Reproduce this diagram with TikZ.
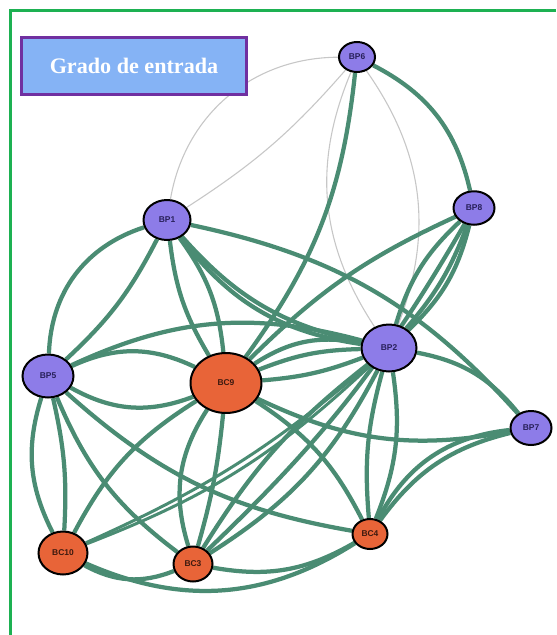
\documentclass[tikz,border=0pt]{standalone}
\usepackage{fontspec}
\newfontfamily\legendfont{Liberation Serif}
\newfontfamily\labelfont{Liberation Sans}
\usetikzlibrary{shapes.geometric}
\pgfdeclarelayer{background}
\pgfsetlayers{background,main}
\definecolor{linkgreen}{RGB}{74,140,115}
\definecolor{bppurple}{RGB}{141,124,232}
\definecolor{bcorange}{RGB}{232,100,56}
\definecolor{framegreen}{RGB}{29,177,82}
\definecolor{boxblue}{RGB}{133,179,245}
\definecolor{boxpurple}{RGB}{112,48,160}
\definecolor{bptext}{RGB}{40,32,90}
\definecolor{bctext}{RGB}{60,25,15}
\tikzset{
  netnode/.style={ellipse,draw=black,line width=0.04cm,inner sep=0pt,font=\labelfont\bfseries\fontsize{4.8}{5}\selectfont},
  bp/.style={netnode,fill=bppurple,text=bptext},
  bc/.style={netnode,fill=bcorange,text=bctext},
  link/.style={draw=linkgreen,line width=0.085cm},
  thinlink/.style={draw=linkgreen,line width=0.06cm},
  faint/.style={draw=black!22,line width=0.022cm},
  legendbox/.style={draw=boxpurple,line width=0.06cm,fill=boxblue,text=white,minimum width=4.52cm,minimum height=1.14cm,font=\legendfont\bfseries\fontsize{12.6}{14}\selectfont}
}
\begin{document}
\begin{tikzpicture}[x=0.02cm,y=-0.02cm]
\useasboundingbox (0,0) rectangle (556,635);
\draw[framegreen,line width=0.06cm] (10.5,635) -- (10.5,10.5) -- (556,10.5);
\node[legendbox] (legend) at (134,66) {Grado de entrada};
\node[bp,minimum width=0.72cm,minimum height=0.6cm] (bp6) at (357,57) {BP6};
\node[bp,minimum width=0.82cm,minimum height=0.67cm] (bp8) at (474,208) {BP8};
\node[bp,minimum width=0.94cm,minimum height=0.8cm] (bp1) at (167,220) {BP1};
\node[bp,minimum width=1.1cm,minimum height=0.94cm] (bp2) at (389,348) {BP2};
\node[bp,minimum width=1.02cm,minimum height=0.86cm] (bp5) at (48,376) {BP5};
\node[bc,minimum width=1.42cm,minimum height=1.2cm] (bc9) at (226,383) {BC9};
\node[bp,minimum width=0.82cm,minimum height=0.68cm] (bp7) at (531,428) {BP7};
\node[bc,minimum width=0.98cm,minimum height=0.86cm] (bc10) at (63,553) {BC10};
\node[bc,minimum width=0.78cm,minimum height=0.7cm] (bc3) at (193,564) {BC3};
\node[bc,minimum width=0.7cm,minimum height=0.6cm] (bc4) at (370,534) {BC4};
\begin{pgfonlayer}{background}
\draw[faint] (bp6) to[bend right=40] (bp1);
\draw[faint] (bp6) to[bend left=8] (bp1);
\draw[faint] (bp6) to[bend right=28] (bp2);
\draw[faint] (bp6) to[bend left=28] (bp2);
\draw[link] (bp6) to[bend left=25] (bp8);
\draw[link] (bp6) to[bend left=15] (bc9);
\draw[link] (bp1) to[bend right=35] (bp5);
\draw[link] (bp1) to[bend left=10] (bp5);
\draw[link] (bp1) to[bend left=18] (bp7);
\draw[link] (bp1) to[bend right=18] (bp2);
\draw[link] (bp1) to[bend right=22] (bp2);
\draw[link] (bp1) to[bend left=15] (bc9);
\draw[link] (bp1) to[bend right=12] (bc9);
\draw[link] (bp5) to[bend left=20] (bp2);
\draw[link] (bp5) to[bend left=25] (bc9);
\draw[link] (bp5) to[bend right=25] (bc9);
\draw[link] (bp5) to[bend right=16] (bc4);
\draw[link] (bp5) to[bend right=15] (bc3);
\draw[link] (bp5) to[bend right=22] (bc10);
\draw[link] (bp5) to[bend left=8] (bc10);
\draw[link] (bc9) to[bend right=15] (bc10);
\draw[link] (bc9) to[bend right=25] (bc3);
\draw[link] (bc9) to[bend left=5] (bc3);
\draw[link] (bc9) to[bend left=15] (bc4);
\draw[link] (bc9) to[bend right=18] (bp7);
\draw[link] (bc9) to[bend left=10] (bp2);
\draw[link] (bc9) to[bend right=8] (bp2);
\draw[link] (bc9) to[bend left=22] (bp2);
\draw[thinlink] (bc10) to[bend right=8] (bp2);
\draw[thinlink] (bc10) to[bend right=11] (bp2);
\draw[link] (bc10) to[bend right=25] (bc3);
\draw[link] (bc10) to[bend right=28] (bc4);
\draw[link] (bc3) to[bend right=20] (bc4);
\draw[link] (bc3) to[bend right=15] (bp2);
\draw[link] (bc3) to[bend left=10] (bp2);
\draw[link] (bc3) to[bend right=8] (bp8);
\draw[link] (bp2) to[bend left=15] (bc4);
\draw[link] (bp2) to[bend right=10] (bc4);
\draw[link] (bp2) to[bend left=20] (bp7);
\draw[link] (bp8) to[bend left=10] (bp2);
\draw[link] (bp8) to[bend left=16] (bp2);
\draw[link] (bp8) to[bend right=15] (bp2);
\draw[link] (bp8) to[bend right=10] (bc9);
\draw[link] (bp7) to[bend right=20] (bc4);
\draw[link] (bp7) to[bend right=28] (bc4);
\end{pgfonlayer}
\end{tikzpicture}
\end{document}
